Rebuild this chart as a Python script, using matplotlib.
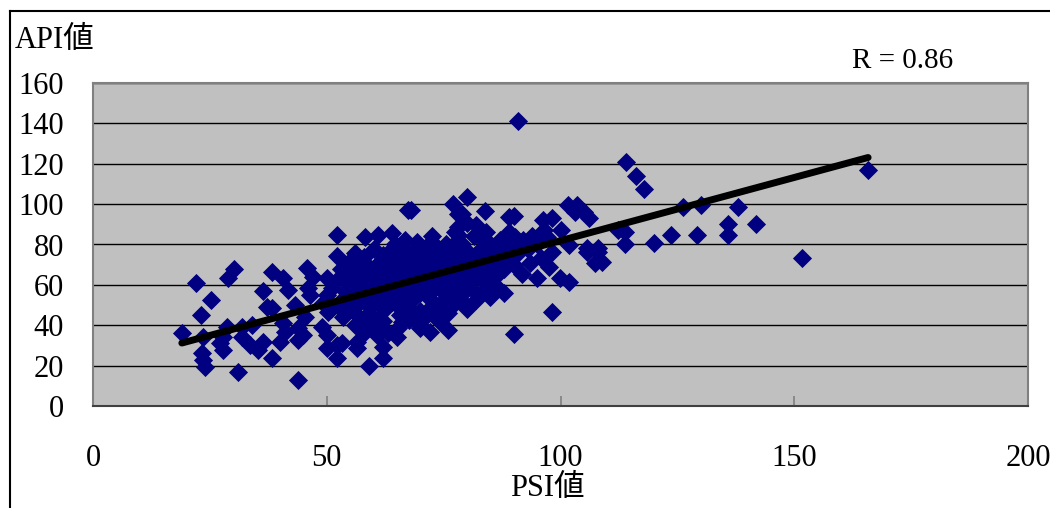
import numpy as np
import matplotlib
matplotlib.use("Agg")
import matplotlib.pyplot as plt
from matplotlib.lines import Line2D

plt.rcParams['font.family'] = ['Liberation Serif', 'Noto Sans CJK JP']

# PSI / API readings (x = PSI, y = API)
psi_low = [19, 22, 25.2, 23.1, 28.8, 30.1, 38.2, 36.3, 23.5, 23.3, 23.5, 23.9, 31, 43.8,
           38.2, 27.1, 27.8, 28.6, 27.8, 31.8, 34, 33.5, 35.3, 36.3, 31.8, 37.2, 38.2,
           40.6, 41.7, 40.6, 40, 41, 43.8, 43.8, 44.9, 45.7, 47, 45.9, 46.4, 43.2, 45.3,
           52.1, 56, 50, 51.1, 53.4, 49.1, 50.2, 48.9, 50, 50, 52.1, 53.2, 52.1, 53.4,
           56.4, 56.4, 62, 62, 59, 60.7, 58.5, 56, 59.2, 61.8, 63.9, 65.6, 65.2, 66.2,
           57.5, 56, 58.5, 60.7, 62.8, 65.6, 66.2, 52.1, 58.1, 60.9, 63.9, 66.7, 67.3]
api_low = [36, 61, 52.5, 45, 63.4, 67.9, 66.4, 57, 34.2, 26.2, 22.8, 19.3, 16.8, 12.9,
           23.8, 31.2, 27.7, 39.1, 34.2, 34.2, 40.1, 30.2, 27.7, 31.7, 39.1, 49, 48.5,
           63.4, 57.5, 41.1, 31.7, 36.7, 38.6, 32.7, 35.2, 68.4, 63.9, 58.4, 55, 50, 44.1,
           74.3, 75.8, 63.4, 58.4, 63.4, 51, 46.6, 39.1, 35.2, 28.7, 30.2, 31.2, 23.8, 44.1,
           31.7, 28.7, 29.2, 23.8, 19.8, 35.2, 40.1, 49, 49, 49, 51.5, 45, 38.6, 41.6,
           59.9, 56.5, 66.4, 69.8, 73.3, 74.8, 78.3, 84.7, 83.7, 84.7, 85.7, 82.2, 97.1]

psi_mid = [68, 77.1, 79.9, 78, 79, 83.8, 88.9, 90, 96.2, 98.1, 101.5, 103.6, 103, 105,
           106.2, 100, 112.2, 113.7, 113.7, 88, 90.2, 78, 80, 82, 78, 77.4, 83.8, 96.4,
           97.2, 105.6, 108, 69.4, 72, 73.7, 98.1, 90, 75.9, 72, 69.9, 67.7, 82, 78, 75.9,
           88, 86.5, 83.8, 79.5, 81, 83.8, 91.7, 95, 99.8, 101.9, 97.6, 93.4, 95.9, 98.1,
           105.6, 108, 107.3, 108.8, 101.9, 72, 67.3, 69.4]
api_mid = [97, 100, 103.6, 95, 95, 96.6, 93.7, 94, 92.1, 93.1, 99.6, 99.6, 96, 96,
           93, 87, 87, 86, 80, 82, 83.7, 88.7, 90.6, 89.6, 84.7, 80.7, 81.2, 87.2,
           83.7, 78.3, 78.3, 81.2, 80.7, 78.3, 46.6, 35.7, 37.6, 36.7, 38.6, 42.6, 52.5, 54, 54,
           56, 58.4, 60.9, 61.4, 63.4, 67.4, 65.4, 63.4, 63.4, 61.4, 68.8, 70.8, 73.3, 76.3,
           76.3, 76.3, 70.8, 71.3, 79.7, 48.5, 49, 43.6]

psi_high = [91, 114, 116.2, 117.9, 126.1, 130.1, 138, 135.9, 141.9, 123.7, 129.1, 135.9,
            120.1, 165.8, 151.7]
api_high = [141, 121, 114, 107.5, 98.6, 99.6, 98.6, 90.1, 90.1, 84.7, 84.7, 84.7,
            80.7, 116.9, 73.3]

# the crowded middle of the cloud
psi_core = [55, 55.5, 56, 57, 57, 57.5, 58, 58, 59, 59, 59.5, 60, 60, 60.5, 61, 61, 61.5,
            62, 62, 62.5, 63, 63, 63.5, 64, 64, 64.5, 65, 65, 65.5, 66, 66.5, 67, 67, 67.5,
            68, 68, 68.5, 69, 69, 69.5, 70, 70, 70.5, 71, 71, 71.5, 72, 72, 72.5, 73, 73,
            73.5, 74, 74, 74.5, 75, 75, 75.5, 76, 76, 76.5, 77, 77, 77.5, 78, 78, 78.5, 79,
            79, 80, 80, 80.5, 81, 81.5, 82, 82, 83, 83, 84, 84, 85, 85, 86, 86, 87, 87, 88,
            88, 89, 89, 90, 90, 91, 92, 93, 94, 95,
            50, 51, 52, 53, 53, 54, 54, 55, 56, 58, 60, 62, 63, 65, 68, 70, 71, 73, 74, 76,
            77, 79, 80, 82, 84, 85, 86,
            54, 55, 57, 58, 60, 61, 62, 64, 66, 67, 69, 70, 72, 74, 75, 77, 79, 81, 83, 85]
api_core = [52, 60, 66, 44, 70, 54, 62, 74, 46, 58, 68, 52, 78, 63, 43, 56, 72,
            60, 67, 48, 76, 54, 64, 70, 58, 80, 50, 62, 67, 55, 72, 60, 64, 76,
            52, 68, 57, 62, 72, 79, 47, 56, 66, 60, 75, 70, 53, 64, 84, 58, 68,
            76, 62, 50, 72, 56, 66, 80, 60, 70, 74, 64, 57, 86, 68, 76, 62, 72,
            80, 66, 58, 76, 70, 84, 73, 64, 78, 69, 74, 86, 70, 80, 76, 64, 82, 72, 78,
            68, 86, 74, 80, 70, 76, 82, 78, 84, 80,
            55, 48, 62, 52, 68, 57, 46, 72, 40, 36, 38, 42, 36, 34, 46, 40, 44, 46, 42, 46,
            50, 52, 48, 56, 58, 54, 60,
            66, 49, 65, 71, 57, 67, 75, 61, 69, 58, 66, 74, 71, 67, 61, 73, 67, 73, 65, 75]

# regression line and correlation
FIT_SLOPE = 0.626
FIT_INTERCEPT = 19.3
R_VALUE = 0.86

psi = np.array(psi_low + psi_mid + psi_high + psi_core)
api = np.array(api_low + api_mid + api_high + api_core)

fig = plt.figure(figsize=(10.5, 5.08), dpi=100)
ax = fig.add_axes([93 / 1050, 102 / 508, 935 / 1050, 323 / 508])
ax.set_facecolor('#c0c0c0')

ax.scatter(psi, api, marker='D', s=95, color='#000080', linewidths=0, zorder=3)

fit_x = np.array([psi.min(), psi.max()])
ax.plot(fit_x, FIT_INTERCEPT + FIT_SLOPE * fit_x, color='black', lw=5,
        solid_capstyle='round', zorder=4)

ax.set_xlim(0, 200)
ax.set_ylim(0, 160)
ax.set_xticks(np.arange(0, 201, 50))
ax.set_yticks(np.arange(0, 161, 20))
ax.yaxis.grid(True, color='black', lw=1)
ax.set_axisbelow(True)

ax.tick_params(axis='x', direction='in', length=7, width=1.2, color='#808080',
               pad=27, labelsize=22)
ax.tick_params(axis='y', length=0, pad=21, labelsize=22)

for side in ['top', 'right', 'left']:
    ax.spines[side].set_color('#808080')
    ax.spines[side].set_linewidth(1.5)
ax.spines['bottom'].set_color('#404040')
ax.spines['bottom'].set_linewidth(1.5)

fig.text(15 / 1050, 1 - 41 / 508, 'API値', fontsize=22, ha='left', va='center')
fig.text(547 / 1050, 1 - 489 / 508, 'PSI値', fontsize=22, ha='center', va='center')
fig.text(852 / 1050, 1 - 61 / 508, f'R = {R_VALUE}', fontsize=21, ha='left', va='center')

# outer chart border
fig.add_artist(Line2D([10 / 1050, 10 / 1050], [0, 1 - 11 / 508], color='black', lw=1.5))
fig.add_artist(Line2D([10 / 1050, 1], [1 - 11 / 508, 1 - 11 / 508], color='black', lw=1.5))

fig.savefig('out.png', dpi=100)
